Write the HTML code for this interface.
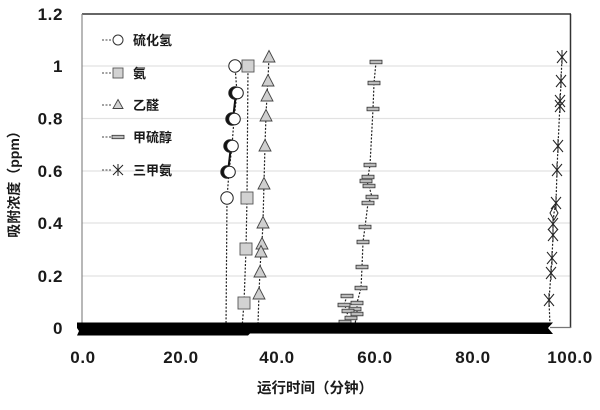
<!DOCTYPE html>
<html><head><meta charset="utf-8"><style>
html,body{margin:0;padding:0;background:#fff;}
svg{display:block;}
.t{font-family:"Liberation Sans","Noto Sans CJK SC",sans-serif;font-weight:bold;fill:#1a1a1a;}
</style></head><body>
<svg width="600" height="410" viewBox="0 0 600 410" xmlns="http://www.w3.org/2000/svg">
<defs>
  <g id="star"><path d="M-5,-6 L5,6 M5,-6 L-5,6 M0,-7 L0,7" stroke="#222" stroke-width="1" fill="none"/></g>
  <g id="dash"><rect x="-6" y="-1.8" width="12" height="3.6" fill="#bbb" stroke="#333" stroke-width="0.8"/></g>
  <g id="tri"><path d="M0,-6.5 L6,5 L-6,5 Z" fill="#cfcfcf" stroke="#444" stroke-width="0.9"/></g>
  <g id="sq"><rect x="-6" y="-6" width="12" height="12" fill="#d2d2d2" stroke="#555" stroke-width="0.9"/></g>
</defs>

<!-- gridlines -->
<g stroke="#e2e2e2" stroke-width="1.2">
  <line x1="82" y1="66" x2="570" y2="66"/>
  <line x1="82" y1="118.5" x2="570" y2="118.5"/>
  <line x1="82" y1="171" x2="570" y2="171"/>
  <line x1="82" y1="223" x2="570" y2="223"/>
  <line x1="82" y1="276" x2="570" y2="276"/>
</g>

<!-- frame -->
<line x1="82" y1="14" x2="571" y2="14" stroke="#333" stroke-width="1.5"/>
<line x1="570.5" y1="14" x2="570.5" y2="328" stroke="#333" stroke-width="1.5"/>
<line x1="82" y1="14" x2="82" y2="328" stroke="#888" stroke-width="1.2"/>
<line x1="550" y1="327.5" x2="571" y2="327.5" stroke="#777" stroke-width="1.2"/>

<!-- series lines -->
<g fill="none" stroke="#222" stroke-width="1.2" stroke-dasharray="2,1.6">
  <polyline points="235,66 237,93 234,119 232,146 229,172 227,198 226,328"/>
  <polyline points="248,66 247,198 246,249 244,303 242,328"/>
  <polyline points="269,56 268,80 267,95 266,115 265,145 264,183 263,222 262,243 261,251 260,271 259,293 258,324"/>
  <polyline points="376,62 374,83 373,109 370,165 368,177 366,181 369,186 372,197 368,203 365,227 363,242 362,267 361,288 357,303 357,313 355,324"/>
  <polyline points="347,296 344,305 348,311 345,322"/>
  <polyline points="562,57 561,81 560,103 558,146 557,170 556,203 554,213 553,224 553,235 552,258 551,273 549,300 550,326"/>
</g>
<g stroke="#111" stroke-width="2">
  <line x1="236" y1="93" x2="233" y2="119"/>
  <line x1="231" y1="146" x2="228" y2="172"/>
</g>

<!-- circles -->
<g stroke="#222" stroke-width="1">
  <circle cx="235" cy="66" r="6.2" fill="#fff"/>
  <circle cx="235" cy="93" r="6.2" fill="#111"/><circle cx="237.5" cy="93" r="5.8" fill="#fff"/>
  <circle cx="232" cy="119" r="6.2" fill="#111"/><circle cx="234.5" cy="119" r="5.8" fill="#fff"/>
  <circle cx="230" cy="146" r="6.2" fill="#111"/><circle cx="232.5" cy="146" r="5.8" fill="#fff"/>
  <circle cx="227" cy="172" r="6.2" fill="#111"/><circle cx="229.5" cy="172" r="5.8" fill="#fff"/>
  <circle cx="227" cy="198" r="6.2" fill="#fff"/>
</g>
<!-- squares -->
<use href="#sq" x="248" y="66"/>
<use href="#sq" x="247" y="198"/>
<use href="#sq" x="246" y="249"/>
<use href="#sq" x="244" y="303"/>
<!-- triangles -->
<use href="#tri" x="269" y="57"/>
<use href="#tri" x="268" y="81"/>
<use href="#tri" x="267" y="96"/>
<use href="#tri" x="266" y="116"/>
<use href="#tri" x="265" y="146"/>
<use href="#tri" x="264" y="184"/>
<use href="#tri" x="263" y="223"/>
<use href="#tri" x="262" y="244"/>
<use href="#tri" x="261" y="252"/>
<use href="#tri" x="260" y="272"/>
<use href="#tri" x="259" y="294"/>
<!-- dashes -->
<use href="#dash" x="376" y="62"/>
<use href="#dash" x="374" y="83"/>
<use href="#dash" x="373" y="109"/>
<use href="#dash" x="370" y="165"/>
<use href="#dash" x="368" y="177"/>
<use href="#dash" x="366" y="181"/>
<use href="#dash" x="369" y="186"/>
<use href="#dash" x="372" y="197"/>
<use href="#dash" x="368" y="203"/>
<use href="#dash" x="365" y="227"/>
<use href="#dash" x="363" y="242"/>
<use href="#dash" x="362" y="267"/>
<use href="#dash" x="361" y="288"/>
<use href="#dash" x="347" y="296"/>
<use href="#dash" x="357" y="303"/>
<use href="#dash" x="344" y="305"/>
<use href="#dash" x="355" y="309"/>
<use href="#dash" x="348" y="311"/>
<use href="#dash" x="357" y="314"/>
<use href="#dash" x="351" y="318"/>
<use href="#dash" x="345" y="322"/>
<!-- stars -->
<use href="#star" x="562" y="57"/>
<use href="#star" x="561" y="81"/>
<use href="#star" x="560" y="101"/>
<use href="#star" x="560" y="106"/>
<use href="#star" x="558" y="146"/>
<use href="#star" x="557" y="170"/>
<use href="#star" x="556" y="203"/>
<path d="M554,206 L558,213 L554,220 L550,213 Z" fill="none" stroke="#222" stroke-width="1"/>
<use href="#star" x="553" y="224"/>
<use href="#star" x="553" y="235"/>
<use href="#star" x="552" y="258"/>
<use href="#star" x="551" y="273"/>
<use href="#star" x="549" y="300"/>

<!-- black band at zero -->
<path d="M77,322.5 L553,322.5 L548,328 L553,334 L250,333.5 L248,335.5 L77,335.5 L79,331 L77,328 Z" fill="#000"/>

<!-- legend -->
<g stroke="#444" stroke-width="1" stroke-dasharray="2,1.5">
  <line x1="102" y1="40" x2="112" y2="40"/>
  <line x1="102" y1="73" x2="112" y2="73"/>
  <line x1="102" y1="105" x2="112" y2="105"/>
  <line x1="102" y1="137" x2="112" y2="137"/>
  <line x1="102" y1="170" x2="112" y2="170"/>
</g>
<circle cx="118" cy="40" r="5" fill="#fff" stroke="#333" stroke-width="1"/>
<rect x="113" y="68" width="10" height="10" fill="#d2d2d2" stroke="#555" stroke-width="0.9"/>
<path d="M118,99.5 L123,108.5 L113,108.5 Z" fill="#d2d2d2" stroke="#444" stroke-width="0.9"/>
<rect x="112" y="135.3" width="12" height="3.4" fill="#bbb" stroke="#333" stroke-width="0.8"/>
<path d="M113,165 L123,175 M123,165 L113,175 M118,164 L118,176" stroke="#222" stroke-width="1"/>
<g class="t" font-size="13">
  <text x="133" y="45">硫化氢</text>
  <text x="133" y="78">氨</text>
  <text x="133" y="110">乙醛</text>
  <text x="133" y="142">甲硫醇</text>
  <text x="133" y="175">三甲氨</text>
</g>

<!-- y tick labels -->
<g class="t" font-size="17" text-anchor="end" letter-spacing="0.6">
  <text x="63" y="20">1.2</text>
  <text x="63" y="72">1</text>
  <text x="63" y="124.5">0.8</text>
  <text x="63" y="177">0.6</text>
  <text x="63" y="229">0.4</text>
  <text x="63" y="282">0.2</text>
  <text x="63" y="334">0</text>
</g>
<!-- x tick labels -->
<g class="t" font-size="17" text-anchor="middle" letter-spacing="0.6">
  <text x="83" y="363">0.0</text>
  <text x="181" y="363">20.0</text>
  <text x="277" y="363">40.0</text>
  <text x="375" y="363">60.0</text>
  <text x="473" y="363">80.0</text>
  <text x="570" y="363">100.0</text>
</g>

<!-- axis titles -->
<text class="t" font-size="14.5" x="315" y="393" text-anchor="middle">运行时间（分钟）</text>
<text class="t" font-size="14" transform="translate(19,181) rotate(-90)" text-anchor="middle">吸附浓度（ppm）</text>
</svg>
</body></html>
